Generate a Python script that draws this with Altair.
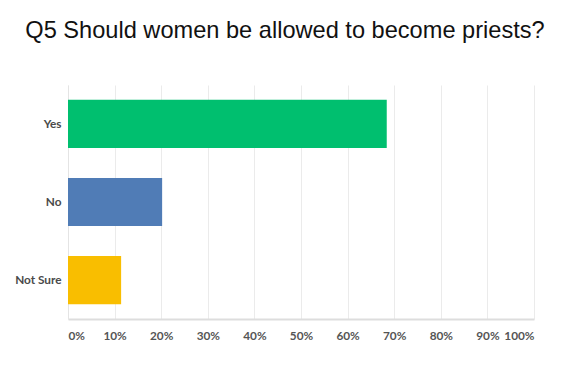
import altair as alt
import pandas as pd

answers = ["Yes", "No", "Not Sure"]
shares = [0.684, 0.202, 0.114]
colors = ["#00BF6F", "#507CB6", "#F9BE00"]

df = pd.DataFrame({"answer": answers, "share": shares})

chart = alt.Chart(df).mark_bar().encode(
    y=alt.Y("answer:N", sort=answers, title=None,
            scale=alt.Scale(paddingInner=0.385, paddingOuter=0.19),
            axis=alt.Axis(labelFont="Lato", labelFontWeight="bold", labelFontSize=11.8,
                          labelColor="#4a4a4a", labelPadding=7, ticks=False,
                          domain=True, domainColor="#e4e4e4", domainWidth=1)),
    x=alt.X("share:Q", title=None,
            scale=alt.Scale(domain=[0, 1], nice=False),
            axis=alt.Axis(format=".0%", values=[i / 10 for i in range(11)],
                          labelFont="Lato", labelFontWeight="bold", labelFontSize=11.8,
                          labelColor="#555555", labelPadding=11, labelFlush=True,
                          ticks=False, grid=True, gridColor="#ebebeb", gridWidth=1,
                          domainColor="#dddddd", domainWidth=2)),
    color=alt.Color("answer:N", scale=alt.Scale(domain=answers, range=colors), legend=None),
).properties(
    width=466, height=234,
    title=alt.TitleParams("Q5 Should women be allowed to become priests?",
                          font="Liberation Sans", fontSize=23.6, fontWeight="normal",
                          color="#111111", anchor="middle", offset=42, dx=-16),
    autosize=alt.AutoSizeParams(type="none"),
    padding={"left": 60, "top": 77, "right": 20, "bottom": 40},
).configure_view(stroke=None)

chart.save("out.html", embed_options={"renderer": "svg", "actions": False})
